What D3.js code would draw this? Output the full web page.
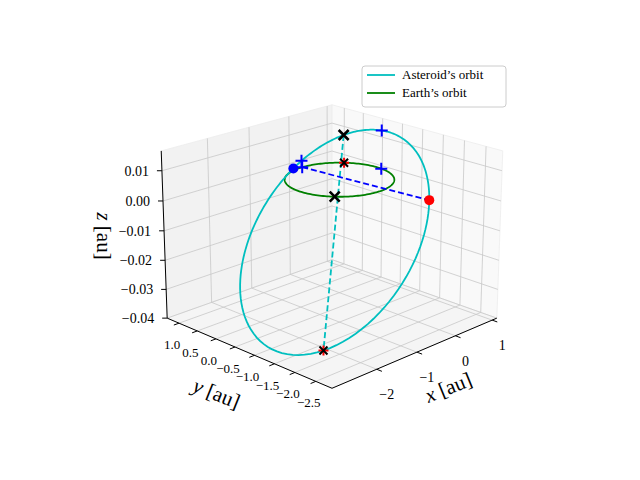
<!DOCTYPE html>
<html>
<head>
<meta charset="utf-8">
<script src="https://cdn.jsdelivr.net/npm/d3@7"></script>
<style>
  body { margin: 0; background: #fff; }
  text { font-family: "Liberation Serif", "DejaVu Serif", serif; }
</style>
</head>
<body>
<svg id="chart" width="640" height="480"></svg>
<script>
// axis limits and ticks
const xLim = [-3.06, 1.13];
const yLim = [-2.88, 1.33];
const zLim = [-0.040, 0.0165];
const xTicks = [-2, -1, 0, 1];
const yTicks = [1.0, 0.5, 0.0, -0.5, -1.0, -1.5, -2.0, -2.5];
const zTicks = [0.01, 0.00, -0.01, -0.02, -0.03, -0.04];

// orbital elements: [a, e, inclination deg, ascending node deg, longitude of perihelion deg]
const asteroidElements = [2.02, 0.558, 0.78, 278, 40];
const earthElements = [1.0, 0.0, 0.0, 0, 0];

// marker longitudes (deg)
const apsisLongitudes = [40, 220];     // black x / red + pairs
const crossLongitudes = [89, 354];     // blue + pairs
const nodeLongitudes = [98, 278];      // blue dot, red dot

const svg = d3.select("#chart");
const el = 20 * Math.PI / 180, az = -135 * Math.PI / 180;
const D = 28.9, K = 1714, cx = 332, cy = 236;

const nx = d3.scaleLinear().domain(xLim).range([-2, 2]);
const ny = d3.scaleLinear().domain(yLim).range([-2, 2]);
const nz = d3.scaleLinear().domain(zLim).range([-1.5, 1.5]);

const ce = Math.cos(el), se = Math.sin(el);
const dv = [-Math.cos(az) * ce, -Math.sin(az) * ce, -se];
const rv = [-Math.sin(az), Math.cos(az), 0];
const uv = [rv[1] * dv[2] - rv[2] * dv[1], rv[2] * dv[0] - rv[0] * dv[2], rv[0] * dv[1] - rv[1] * dv[0]];
const dot = (a, b) => a[0] * b[0] + a[1] * b[1] + a[2] * b[2];

function proj(x, y, z) {
  const p = [nx(x), ny(y), nz(z)];
  const s = K / (D + dot(p, dv));
  return [cx + dot(p, rv) * s, cy - dot(p, uv) * s];
}

// position on orbit at ecliptic longitude (approx: small inclination)
function orbitPos(elm, lonDeg) {
  const [a, e, inc, node, peri] = elm;
  const r = a * (1 - e * e) / (1 + e * Math.cos((lonDeg - peri) * Math.PI / 180));
  const L = lonDeg * Math.PI / 180;
  const u = (lonDeg - node) * Math.PI / 180;
  return [r * Math.cos(L), r * Math.sin(L), r * Math.sin(inc * Math.PI / 180) * Math.sin(u)];
}

const line = d3.line();
const g = svg.append("g");

// panes
const X0 = xLim[0], X1 = xLim[1], Y0 = yLim[0], Y1 = yLim[1], Z0 = zLim[0], Z1 = zLim[1];
const panes = [
  {pts: [[X0, Y1, Z0], [X1, Y1, Z0], [X1, Y1, Z1], [X0, Y1, Z1]], fill: "#f2f2f2"},
  {pts: [[X1, Y0, Z0], [X1, Y1, Z0], [X1, Y1, Z1], [X1, Y0, Z1]], fill: "#f9f9f9"},
  {pts: [[X0, Y0, Z0], [X1, Y0, Z0], [X1, Y1, Z0], [X0, Y1, Z0]], fill: "#f5f5f5"}
];
g.selectAll("path.pane").data(panes).join("path").attr("class", "pane")
  .attr("d", d => line(d.pts.map(p => proj(...p))) + "Z")
  .attr("fill", d => d.fill).attr("stroke", "#ececec").attr("stroke-width", 0.8);

// grid
const grid = [];
xTicks.forEach(t => { grid.push([[t, Y0, Z0], [t, Y1, Z0]]); grid.push([[t, Y1, Z0], [t, Y1, Z1]]); });
yTicks.forEach(t => { grid.push([[X0, t, Z0], [X1, t, Z0]]); grid.push([[X1, t, Z0], [X1, t, Z1]]); });
zTicks.forEach(t => { grid.push([[X0, Y1, t], [X1, Y1, t]]); grid.push([[X1, Y0, t], [X1, Y1, t]]); });
g.selectAll("path.grid").data(grid).join("path").attr("class", "grid")
  .attr("d", d => line(d.map(p => proj(...p))))
  .attr("stroke", "#c8c8c8").attr("stroke-width", 0.8).attr("fill", "none");

// axis lines
const axes = [[[X0, Y0, Z0], [X1, Y0, Z0]], [[X0, Y0, Z0], [X0, Y1, Z0]], [[X0, Y1, Z0], [X0, Y1, Z1]]];
g.selectAll("path.axis").data(axes).join("path").attr("class", "axis")
  .attr("d", d => line(d.map(p => proj(...p))))
  .attr("stroke", "#000").attr("stroke-width", 1).attr("fill", "none");

const fmtMinus = s => s.replace("-", "\u2212");
// x ticks
xTicks.forEach(t => {
  const a = proj(t, Y0, Z0), b = proj(t, Y0 - 0.12, Z0);
  g.append("line").attr("x1", a[0]).attr("y1", a[1]).attr("x2", b[0]).attr("y2", b[1]).attr("stroke", "#000");
  g.append("text").attr("x", a[0] + 10).attr("y", a[1] + 30).attr("text-anchor", "middle")
    .attr("font-size", 14).text(fmtMinus(d3.format("d")(t)));
});
// y ticks
yTicks.forEach(t => {
  const a = proj(X0, t, Z0), b = proj(X0 - 0.12, t, Z0);
  g.append("line").attr("x1", a[0]).attr("y1", a[1]).attr("x2", b[0]).attr("y2", b[1]).attr("stroke", "#000");
  g.append("text").attr("x", a[0] - 7).attr("y", a[1] + 26).attr("text-anchor", "middle")
    .attr("font-size", 13).text(fmtMinus(d3.format(".1f")(t)));
});
// z ticks
zTicks.forEach(t => {
  const a = proj(X0, Y1, t);
  g.append("line").attr("x1", a[0]).attr("y1", a[1]).attr("x2", a[0] - 5).attr("y2", a[1]).attr("stroke", "#000");
  g.append("text").attr("x", a[0] - 13).attr("y", a[1] + 5).attr("text-anchor", "end")
    .attr("font-size", 14).text(fmtMinus(d3.format(".2f")(t)));
});

// axis titles
function axTitle(x, y, rot, name) {
  const t = g.append("text").attr("transform", `translate(${x},${y}) rotate(${rot})`)
    .attr("text-anchor", "middle").attr("font-size", 21);
  t.append("tspan").attr("font-style", "italic").text(name);
  t.append("tspan").text(" [au]");
}
axTitle(451, 394, -22, "x");
axTitle(214, 400, 22, "y");
axTitle(97, 236, 90, "z");

// orbits
const lonGrid = d3.range(0, 361, 2);
const orbits = [
  {elm: earthElements, color: "#008000"},
  {elm: asteroidElements, color: "#00bfbf"}
];
g.selectAll("path.orbit").data(orbits).join("path").attr("class", "orbit")
  .attr("d", d => line(lonGrid.map(l => proj(...orbitPos(d.elm, l)))))
  .attr("fill", "none").attr("stroke", d => d.color).attr("stroke-width", 1.8);

// dashed lines: apsides (cyan), nodes (blue)
const pA0 = proj(...orbitPos(asteroidElements, apsisLongitudes[0]));
const pA1 = proj(...orbitPos(asteroidElements, apsisLongitudes[1]));
g.append("path").attr("d", line([pA0, pA1])).attr("stroke", "#00bfbf")
  .attr("stroke-width", 1.8).attr("stroke-dasharray", "6,3");
const pN0 = proj(...orbitPos(earthElements, crossLongitudes[0]));
const pN1 = proj(...orbitPos(asteroidElements, nodeLongitudes[1]));
g.append("path").attr("d", line([pN0, pN1])).attr("stroke", "#0000ff")
  .attr("stroke-width", 1.8).attr("stroke-dasharray", "6,3");

function cross(p, size, color, w) {
  g.append("path").attr("d", `M${p[0] - size},${p[1]}H${p[0] + size}M${p[0]},${p[1] - size}V${p[1] + size}`)
    .attr("stroke", color).attr("stroke-width", w);
}
function xmark(p, size, color, w) {
  g.append("path").attr("d", `M${p[0] - size},${p[1] - size}L${p[0] + size},${p[1] + size}M${p[0] - size},${p[1] + size}L${p[0] + size},${p[1] - size}`)
    .attr("stroke", color).attr("stroke-width", w);
}

// blue + pairs
crossLongitudes.forEach(l => {
  cross(proj(...orbitPos(asteroidElements, l)), 6, "#0000ff", 2);
  cross(proj(...orbitPos(earthElements, l)), 6, "#0000ff", 2);
});
// red + and black x
cross(proj(...orbitPos(earthElements, apsisLongitudes[0])), 5, "#ff0000", 2);
cross(proj(...orbitPos(asteroidElements, apsisLongitudes[1])), 5, "#ff0000", 2);
xmark(proj(...orbitPos(earthElements, apsisLongitudes[0])), 4, "#000", 2);
xmark(proj(...orbitPos(asteroidElements, apsisLongitudes[1])), 4, "#000", 2);
xmark(proj(...orbitPos(asteroidElements, apsisLongitudes[0])), 5, "#000", 2.6);
xmark(proj(...orbitPos(earthElements, apsisLongitudes[1])), 5, "#000", 2.6);
// node dots
g.append("circle").attr("cx", proj(...orbitPos(asteroidElements, nodeLongitudes[0]))[0])
  .attr("cy", proj(...orbitPos(asteroidElements, nodeLongitudes[0]))[1]).attr("r", 5).attr("fill", "#0000ff");
g.append("circle").attr("cx", proj(...orbitPos(asteroidElements, nodeLongitudes[1]))[0])
  .attr("cy", proj(...orbitPos(asteroidElements, nodeLongitudes[1]))[1]).attr("r", 5).attr("fill", "#ff0000");

// legend
const leg = svg.append("g").attr("transform", "translate(362,66)");
leg.append("rect").attr("width", 144).attr("height", 41).attr("rx", 3)
  .attr("fill", "#fff").attr("stroke", "#cccccc");
const legItems = [{label: "Asteroid\u2019s orbit", color: "#00bfbf"}, {label: "Earth\u2019s orbit", color: "#008000"}];
legItems.forEach((d, i) => {
  leg.append("line").attr("x1", 5).attr("x2", 33).attr("y1", 9 + i * 18).attr("y2", 9 + i * 18)
    .attr("stroke", d.color).attr("stroke-width", 1.8);
  leg.append("text").attr("x", 40).attr("y", 13 + i * 18).attr("font-size", 13).text(d.label);
});
</script>
</body>
</html>
